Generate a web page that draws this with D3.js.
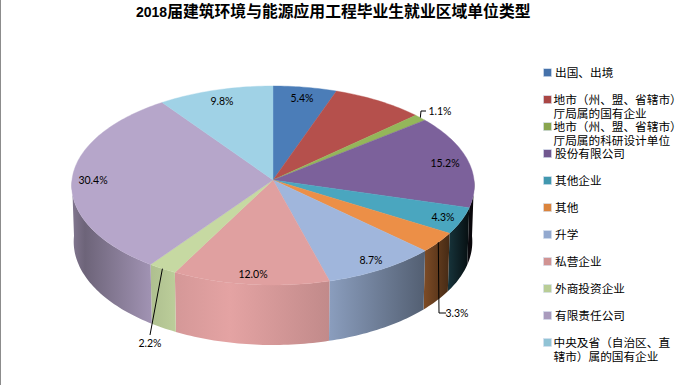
<!DOCTYPE html>
<html lang="zh">
<head>
  <meta charset="UTF-8">
  <title>2018届建筑环境与能源应用工程毕业生就业区域单位类型</title>
  <script src="https://d3js.org/d3.v7.min.js"></script>
  <style>
    html, body { margin: 0; padding: 0; background: #fff; overflow: hidden; }
    svg { display: block; }
    text { fill: #000; }
  </style>
</head>
<body>
  <div id="chart"></div>

  <script>
    // Values (red slice has no label, it is the remainder)
    const categories = [
      ["出国、出境"],
      ["地市（州、盟、省辖市）", "厅局属的国有企业"],
      ["地市（州、盟、省辖市）", "厅局属的科研设计单位"],
      ["股份有限公司"],
      ["其他企业"],
      ["其他"],
      ["升学"],
      ["私营企业"],
      ["外商投资企业"],
      ["有限责任公司"],
      ["中央及省（自治区、直", "辖市）属的国有企业"]
    ];
    const values = [5.4, 7.8, 1.1, 15.2, 4.3, 3.3, 8.7, 12.0, 2.2, 30.4, 9.8];
    const valueLabels = ["5.4%", null, "1.1%", "15.2%", "4.3%", "3.3%", "8.7%", "12.0%", "2.2%", "30.4%", "9.8%"];
    const colors = ["#4b7db8", "#b5504c", "#94b65a", "#7c619b", "#4aa6bf", "#ec8f47", "#a0b6dc", "#e0a0a0", "#c6d9a2", "#b6a6ca", "#a0d2e6"];
    const legendColors = ["#4672aa", "#aa4644", "#89a54e", "#71588f", "#4198af", "#db843d", "#93a9cf", "#d19392", "#b9cd96", "#a99bbd", "#91c3d5"];

    // label centres, and where the leader lines bend
    const labelPos = [[302, 98], null, [440, 111], [445, 163], [443, 217], [457, 313], [371, 260], [253, 274], [150, 343], [93, 180], [222, 101]];
    const leaderBends = { 2: [[421, 111], [426, 111]], 5: [[439, 313], [446, 313]], 8: [[150, 335]] };

    // side shading from left to right across the pie
    const shadeX = [71, 85, 150, 176, 230, 330, 425, 449, 470, 474];
    const shadeK = [0.72, 0.6, 0.88, 0.95, 1.02, 0.86, 0.52, 0.3, 0.08, 0.05];

    const width = 684, height = 385;
    const svg = d3.select("#chart").append("svg")
      .attr("width", width)
      .attr("height", height);

    // perspective discs: top face and bottom rim of the pie
    const persp = 0.0553;
    const topDisc = { cx: 273, cy: 180, fx: 201, fy: 99.2 };
    const botDisc = { cx: 273, cy: 236, fx: 199, fy: 103 };
    const project = (disc, a) => {
      const u = Math.sin(a), v = -Math.cos(a), w = 1 - persp * v;
      return [disc.cx + disc.fx * u / w, disc.cy + disc.fy * v / w];
    };
    const arcPoints = (disc, a0, a1) => {
      const n = Math.max(2, Math.ceil((a1 - a0) / 0.02));
      return d3.range(n + 1).map(i => project(disc, a0 + (a1 - a0) * i / n));
    };

    const pie = d3.pie().sort(null).value(d => d);
    const slices = pie(values);
    const line = d3.line();
    const shade = d3.scaleLinear().domain(shadeX).range(shadeK);

    const defs = svg.append("defs");
    slices.forEach((s, i) => {
      const base = d3.rgb(colors[i]);
      const grad = defs.append("linearGradient")
        .attr("id", "side" + i)
        .attr("gradientUnits", "userSpaceOnUse")
        .attr("x1", 71).attr("x2", 474).attr("y1", 0).attr("y2", 0);
      shadeX.forEach(x => {
        const k = shade(x);
        grad.append("stop")
          .attr("offset", (x - 71) / (474 - 71))
          .attr("stop-color", d3.rgb(base.r * k, base.g * k, base.b * k).formatHex());
      });
    });

    // left edge of the screenshot
    svg.append("rect")
      .attr("x", 0).attr("y", 0)
      .attr("width", 1).attr("height", height)
      .attr("fill", "#8c8c8c");

    // side wall, only the front half shows
    const frontStart = Math.PI / 2, frontEnd = Math.PI * 1.5;
    svg.append("g")
      .selectAll("path")
      .data(slices.filter(s => s.endAngle > frontStart && s.startAngle < frontEnd))
      .join("path")
        .attr("d", s => {
          const a0 = Math.max(s.startAngle, frontStart), a1 = Math.min(s.endAngle, frontEnd);
          return line(arcPoints(topDisc, a0, a1).concat(arcPoints(botDisc, a0, a1).reverse())) + "Z";
        })
        .attr("fill", s => `url(#side${s.index})`);

    // top face
    svg.append("g")
      .selectAll("path")
      .data(slices)
      .join("path")
        .attr("d", s => line([[topDisc.cx, topDisc.cy]].concat(arcPoints(topDisc, s.startAngle, s.endAngle))) + "Z")
        .attr("fill", s => colors[s.index])
        .attr("stroke", s => colors[s.index])
        .attr("stroke-width", 0.4);

    // leader lines
    svg.append("g")
      .selectAll("path")
      .data(Object.keys(leaderBends).map(Number))
      .join("path")
        .attr("d", i => {
          const s = slices[i];
          return line([project(topDisc, (s.startAngle + s.endAngle) / 2)].concat(leaderBends[i]));
        })
        .attr("fill", "none")
        .attr("stroke", "#000")
        .attr("stroke-width", 1);

    // value labels
    svg.append("g")
      .selectAll("text")
      .data(valueLabels.map((t, i) => ({ t, pos: labelPos[i] })).filter(d => d.t))
      .join("text")
        .attr("x", d => d.pos[0])
        .attr("y", d => d.pos[1])
        .attr("dy", "0.35em")
        .attr("text-anchor", "middle")
        .attr("font-family", "Lato, 'Liberation Sans', sans-serif")
        .attr("font-size", 10.5)
        .text(d => d.t);

    // legend
    const legendY = d3.scalePoint()
      .domain(d3.range(categories.length))
      .range([72.7, 342.5]);
    const legend = svg.append("g")
      .selectAll("g")
      .data(categories)
      .join("g")
        .attr("transform", (d, i) => `translate(0,${legendY(i)})`);
    legend.append("rect")
      .attr("x", 543.5).attr("y", -4)
      .attr("width", 8).attr("height", 8)
      .attr("fill", (d, i) => legendColors[i])
      .attr("stroke", "#d5dfee")
      .attr("stroke-width", 0.6);
    legend.append("text")
      .attr("font-family", "'Noto Sans CJK SC', sans-serif")
      .attr("font-size", 11.67)
      .selectAll("tspan")
      .data(d => d)
      .join("tspan")
        .attr("x", function(d) { return this.parentNode.__data__.length > 1 ? 553.5 : 555; })
        .attr("y", (d, i) => i * 14)
        .attr("dy", "0.36em")
        .text(d => d);

    // title
    const title = svg.append("text")
      .attr("x", 136)
      .attr("y", 11)
      .attr("dy", "0.36em")
      .attr("font-weight", "bold");
    title.append("tspan")
      .attr("font-family", "'Liberation Sans', sans-serif")
      .attr("font-size", 14)
      .text("2018");
    title.append("tspan")
      .attr("font-family", "'Noto Sans CJK SC', sans-serif")
      .attr("font-size", 15.8)
      .text("届建筑环境与能源应用工程毕业生就业区域单位类型");
  </script>
</body>
</html>
